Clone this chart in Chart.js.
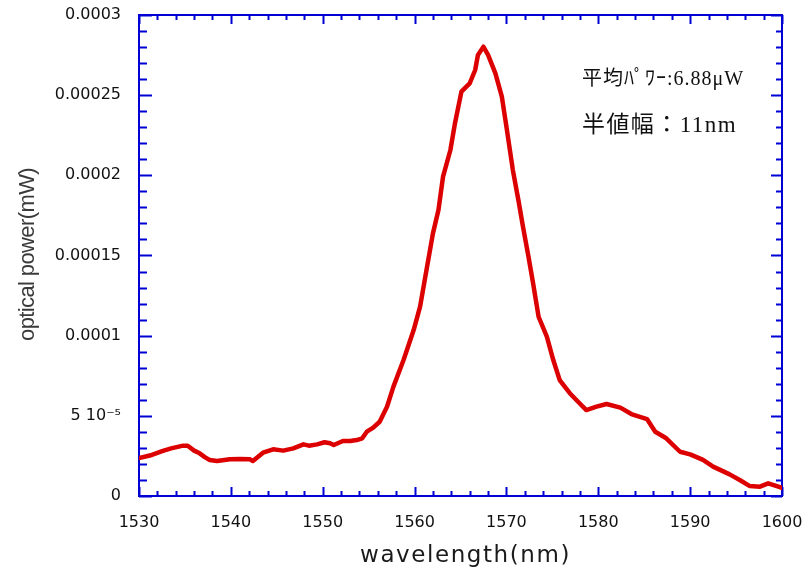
<!DOCTYPE html>
<html>
<head>
<meta charset="utf-8">
<script src="https://cdn.jsdelivr.net/npm/chart.js@4.4.1/dist/chart.umd.min.js"></script>
<style>
  html, body { margin: 0; padding: 0; background: #ffffff; }
  #wrap { width: 808px; height: 571px; position: relative; }
</style>
</head>
<body>
<div id="wrap"><canvas id="c" width="808" height="571"></canvas></div>
<script>
// ---- data ----
const wavelength = [
  1530.0, 1531.4, 1532.6, 1533.5, 1534.8, 1535.3, 1536.0, 1536.6, 1537.2, 1537.7,
  1538.5, 1539.9, 1541.0, 1542.1, 1542.4, 1543.5, 1544.6, 1545.7, 1546.8, 1547.9,
  1548.5, 1549.4, 1550.2, 1550.8, 1551.2, 1552.2, 1553.0, 1553.7, 1554.3, 1554.8,
  1555.5, 1556.2, 1557.0, 1557.7, 1558.8, 1559.9, 1560.6, 1561.3, 1562.0, 1562.6,
  1563.1, 1563.9, 1564.4, 1565.1, 1566.0, 1566.6, 1566.9, 1567.5, 1568.0, 1568.8,
  1569.5, 1570.0, 1570.7, 1571.3, 1571.8, 1572.4, 1572.9, 1573.5, 1574.4, 1575.1,
  1575.8, 1576.9, 1577.8, 1578.7, 1579.8, 1580.9, 1582.4, 1583.6, 1585.3, 1586.2,
  1587.4, 1588.9, 1590.0, 1591.4, 1592.5, 1594.3, 1595.4, 1596.5, 1597.6, 1598.5,
  1599.6, 1600.0
];
const power = [
  2.37e-5, 2.56e-5, 2.81e-5, 2.97e-5, 3.14e-5, 3.14e-5, 2.83e-5, 2.66e-5, 2.41e-5, 2.25e-5,
  2.18e-5, 2.29e-5, 2.31e-5, 2.29e-5, 2.18e-5, 2.70e-5, 2.91e-5, 2.83e-5, 2.97e-5, 3.22e-5,
  3.14e-5, 3.22e-5, 3.35e-5, 3.29e-5, 3.18e-5, 3.43e-5, 3.43e-5, 3.49e-5, 3.60e-5, 4.01e-5,
  4.26e-5, 4.63e-5, 5.57e-5, 6.82e-5, 8.48e-5, 1.035e-4, 1.181e-4, 1.41e-4, 1.638e-4, 1.784e-4,
  1.992e-4, 2.158e-4, 2.325e-4, 2.522e-4, 2.574e-4, 2.657e-4, 2.751e-4, 2.802e-4, 2.751e-4, 2.636e-4,
  2.491e-4, 2.303e-4, 2.033e-4, 1.846e-4, 1.68e-4, 1.493e-4, 1.327e-4, 1.118e-4, 9.94e-5, 8.48e-5,
  7.23e-5, 6.41e-5, 5.88e-5, 5.36e-5, 5.57e-5, 5.74e-5, 5.51e-5, 5.11e-5, 4.80e-5, 4.01e-5,
  3.60e-5, 2.76e-5, 2.60e-5, 2.25e-5, 1.83e-5, 1.35e-5, 1.0e-5, 6.2e-6, 5.8e-6, 7.9e-6,
  5.8e-6, 5.0e-6
];
const xTickLabels = ['1530', '1540', '1550', '1560', '1570', '1580', '1590', '1600'];
const yTickLabels = ['0', '5 10\u207B\u2075', '0.0001', '0.00015', '0.0002', '0.00025', '0.0003'];
const xTitle = 'wavelength(nm)';
const yTitle = 'optical power(mW)';
const noteLine1 = '平均ﾊﾟﾜｰ:6.88μW';
const noteLine2 = '半値幅：11nm';

const X_MIN = 1530, X_MAX = 1600, X_STEP = 10, X_MINOR = 2;
const Y_MIN = 0, Y_MAX = 0.0003, Y_STEP = 0.00005, Y_MINOR = 0.00001;

const FRAME = '#0000d4';
const LINE = '#dc0000';

function fitText(ctx, text, x, y, width) {
  const w0 = ctx.measureText(text).width;
  const n = Array.from(text).length;
  const sp = n > 1 ? (width - w0) / n : 0;
  try { ctx.letterSpacing = sp.toFixed(2) + 'px'; } catch (e) {}
  ctx.fillText(text, x, y);
  try { ctx.letterSpacing = '0px'; } catch (e) {}
}

const framePlugin = {
  id: 'frame',
  beforeDatasetsDraw(chart) {
    const ctx = chart.ctx;
    const a = chart.chartArea;
    const xs = chart.scales.x, ys = chart.scales.y;
    ctx.save();
    ctx.strokeStyle = FRAME;
    ctx.lineWidth = 2;
    ctx.strokeRect(a.left, a.top, a.right - a.left, a.bottom - a.top);
    ctx.beginPath();
    const nX = Math.round((X_MAX - X_MIN) / X_MINOR);
    for (let i = 0; i <= nX; i++) {
      const v = X_MIN + i * X_MINOR;
      const px = Math.round(xs.getPixelForValue(v)) + 0.5;
      const major = (i % Math.round(X_STEP / X_MINOR)) === 0;
      const l = major ? 9 : 5;
      ctx.moveTo(px, a.bottom); ctx.lineTo(px, a.bottom - l);
      ctx.moveTo(px, a.top); ctx.lineTo(px, a.top + l);
    }
    const nY = Math.round((Y_MAX - Y_MIN) / Y_MINOR);
    for (let i = 0; i <= nY; i++) {
      const v = Y_MIN + i * Y_MINOR;
      const py = Math.round(ys.getPixelForValue(v)) + 0.5;
      const major = (i % Math.round(Y_STEP / Y_MINOR)) === 0;
      const ll = major ? 13 : 8;
      const lr = major ? 11 : 6;
      ctx.moveTo(a.left, py); ctx.lineTo(a.left + ll, py);
      ctx.moveTo(a.right, py); ctx.lineTo(a.right - lr, py);
    }
    ctx.stroke();
    ctx.restore();
  },
  afterDraw(chart) {
    const ctx = chart.ctx;
    ctx.save();
    ctx.fillStyle = '#3a3a3a';
    ctx.font = '22px "Liberation Sans", Arial, sans-serif';
    ctx.textAlign = 'left';
    ctx.textBaseline = 'middle';
    ctx.translate(28, 341);
    ctx.rotate(-Math.PI / 2);
    fitText(ctx, yTitle, 0, 0, 173);
    ctx.restore();

    ctx.save();
    ctx.fillStyle = '#1a1a1a';
    ctx.font = '23px "DejaVu Sans", sans-serif';
    ctx.textAlign = 'left';
    ctx.textBaseline = 'alphabetic';
    fitText(ctx, xTitle, 360, 562, 211);
    ctx.restore();

    ctx.save();
    ctx.fillStyle = '#111111';
    ctx.textAlign = 'left';
    ctx.textBaseline = 'alphabetic';
    ctx.font = '20px "Liberation Serif", "Noto Sans CJK JP", serif';
    fitText(ctx, noteLine1, 582, 85, 163);
    ctx.font = '23px "Liberation Serif", "Noto Sans CJK JP", serif';
    fitText(ctx, noteLine2, 582, 132, 155);
    ctx.restore();
  }
};

new Chart(document.getElementById('c'), {
  type: 'line',
  data: {
    datasets: [{
      data: wavelength.map((w, i) => ({ x: w, y: power[i] })),
      borderColor: LINE,
      backgroundColor: LINE,
      borderWidth: 4.5,
      pointRadius: 0,
      tension: 0,
      borderJoinStyle: 'round',
      borderCapStyle: 'round',
      fill: false
    }]
  },
  options: {
    responsive: false,
    animation: false,
    devicePixelRatio: 1,
    layout: { padding: { left: 0, right: 26, top: 15, bottom: 0 } },
    plugins: { legend: { display: false }, tooltip: { enabled: false } },
    scales: {
      x: {
        type: 'linear',
        min: X_MIN, max: X_MAX,
        border: { display: false },
        grid: { display: false, drawTicks: false },
        ticks: {
          stepSize: X_STEP,
          padding: 17,
          color: '#111111',
          font: { family: '"DejaVu Sans", sans-serif', size: 16 },
          maxRotation: 0,
          callback: (v, i) => xTickLabels[i]
        },
        afterFit(s) { s.height = 75; s.paddingLeft = 0; s.paddingRight = 0; }
      },
      y: {
        type: 'linear',
        min: Y_MIN, max: Y_MAX,
        border: { display: false },
        grid: { display: false, drawTicks: false },
        ticks: {
          stepSize: Y_STEP,
          padding: 18,
          color: '#111111',
          font: { family: '"DejaVu Sans", sans-serif', size: 16 },
          callback: (v, i) => yTickLabels[i]
        },
        afterFit(s) { s.width = 139; s.paddingTop = 0; s.paddingBottom = 0; }
      }
    }
  },
  plugins: [framePlugin]
});
</script>
</body>
</html>
